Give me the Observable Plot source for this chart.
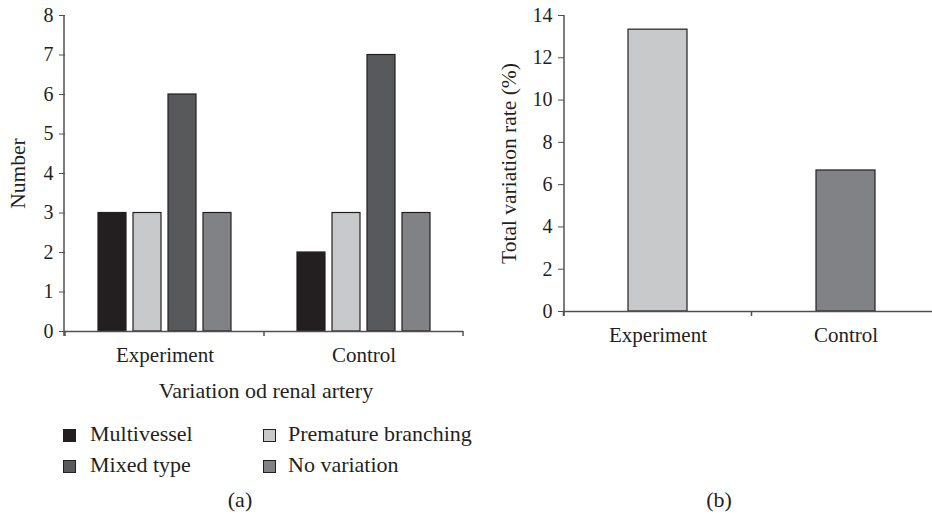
<!DOCTYPE html>
<html><head><meta charset="utf-8">
<script src="https://cdn.jsdelivr.net/npm/d3@7"></script>
<script src="https://cdn.jsdelivr.net/npm/@observablehq/plot@0.6"></script>
<style>
body{margin:0;width:932px;height:517px;overflow:hidden;background:#fff;font-family:"Liberation Serif",serif;color:#231f20;position:relative}
#a{position:absolute;left:0;top:0;width:470px;height:380px}
#b{position:absolute;left:480px;top:0;width:460px;height:380px}
#a svg,#b svg{max-width:none !important}
.t{position:absolute;font-size:22px;white-space:nowrap;line-height:1}
.c{transform:translateX(-50%)}
.sw{position:absolute;width:11px;height:11px;border:1px solid #231f20}
</style></head><body>
<div id="a"></div><div id="b"></div>
<div class="t c" style="left:266px;top:380px">Variation od renal artery</div>
<div id="legend"></div>
<div class="t c" style="left:240px;top:489px">(a)</div>
<div class="t c" style="left:719px;top:489px">(b)</div>
<script>
const groups = ["Experiment", "Control"];
const categories = ["Multivessel", "Premature branching", "Mixed type", "No variation"];
const experimentCounts = [3, 3, 6, 3];
const controlCounts = [2, 3, 7, 3];
const categoryColors = ["#231f20", "#c8c9cb", "#58595b", "#808285"];
const countTicks = [0, 1, 2, 3, 4, 5, 6, 7, 8];

const rateGroups = ["Experiment", "Control"];
const rateValues = [13.33, 6.67];
const rateColors = ["#c8c9cb", "#808285"];
const rateTicks = [0, 2, 4, 6, 8, 10, 12, 14];

const ink = "#231f20";
const axisInk = "#505052";
const font = "Liberation Serif";

const rows = [];
groups.forEach((g, i) => {
  const vals = i === 0 ? experimentCounts : controlCounts;
  categories.forEach((c, j) => rows.push({group: g, category: c, value: vals[j]}));
});

const A = Plot.plot({
  width: 470, height: 380,
  marginLeft: 64, marginRight: 7, marginTop: 15, marginBottom: 49,
  style: {fontFamily: font, fontSize: "20px", color: ink, background: "transparent", overflow: "visible"},
  fx: {domain: groups, padding: 0, label: null},
  x: {domain: categories, paddingInner: 0.2, paddingOuter: 0.87, axis: null},
  y: {domain: [0, 8]},
  color: {domain: categories, range: categoryColors},
  marks: [
    Plot.barY(rows, {fx: "group", x: "category", y: "value", fill: "category", stroke: ink, strokeWidth: 1.2}),
    Plot.ruleY([0], {stroke: axisInk, strokeWidth: 1.5}),
    Plot.axisY({ticks: countTicks, tickSize: 6, tickPadding: 6, stroke: axisInk, label: "Number", labelAnchor: "center", labelArrow: "none", labelOffset: 56}),
    Plot.axisFx({anchor: "bottom", tickSize: 0, tickPadding: 16, fontSize: 21, label: null})
  ]
});
document.getElementById("a").append(A);

const B = Plot.plot({
  width: 460, height: 380,
  marginLeft: 84, marginRight: 0, marginTop: 15, marginBottom: 69,
  style: {fontFamily: font, fontSize: "20px", color: ink, background: "transparent", overflow: "visible"},
  x: {domain: rateGroups, paddingInner: 0.686, paddingOuter: 0.343, axis: null},
  y: {domain: [0, 14]},
  color: {domain: rateGroups, range: rateColors},
  marks: [
    Plot.barY(rateGroups.map((g, i) => ({group: g, value: rateValues[i]})), {x: "group", y: "value", fill: "group", stroke: ink, strokeWidth: 1.2}),
    Plot.ruleY([0], {stroke: axisInk, strokeWidth: 1.5}),
    Plot.axisY({ticks: rateTicks, tickSize: 6, tickPadding: 6, stroke: axisInk, label: "Total variation rate (%)", labelAnchor: "center", labelArrow: "none", labelOffset: 64}),
    Plot.axisX({tickSize: 0, tickPadding: 16, fontSize: 21, label: null})
  ]
});
document.getElementById("b").append(B);

// enlarge the y-axis titles slightly
[A, B].forEach(p => d3.select(p).selectAll('g[aria-label="y-axis label"] text').style("font-size", "21.5px"));

// axis lines and boundary ticks drawn from the plots' own scales
function decorate(plot, bandName, n) {
  const xs = plot.scale(bandName), ys = plot.scale("y");
  const r = xs.range;
  const step = xs.step != null ? xs.step : (r[1] - r[0]) / n;
  const start = xs.apply(xs.domain[0]) + (xs.bandwidth || 0) / 2 - step / 2;
  const y0 = ys.apply(0), yTop = ys.apply(ys.domain[1]);
  const svg = d3.select(plot);
  const g = svg.append("g").attr("stroke", axisInk).attr("stroke-width", 1.5);
  g.append("line").attr("x1", r[0]).attr("x2", r[0]).attr("y1", yTop).attr("y2", y0 + 5);
  for (let i = 0; i <= n; i++) {
    const x = start + i * step;
    g.append("line").attr("x1", x).attr("x2", x).attr("y1", y0).attr("y2", y0 + 5);
  }
}
decorate(A, "fx", groups.length);
decorate(B, "x", rateGroups.length);

// legend
const legend = document.getElementById("legend");
const pos = [[63, 90, 429], [263, 288, 429], [63, 90, 460], [263, 288, 460]];
categories.forEach((c, i) => {
  const [sx, tx, sy] = pos[i];
  const sw = document.createElement("div");
  sw.className = "sw";
  sw.style.left = sx + "px"; sw.style.top = sy + "px"; sw.style.background = categoryColors[i];
  legend.append(sw);
  const t = document.createElement("div");
  t.className = "t";
  t.style.left = tx + "px"; t.style.top = (sy - 6) + "px";
  t.textContent = c;
  legend.append(t);
});
</script>
</body></html>
